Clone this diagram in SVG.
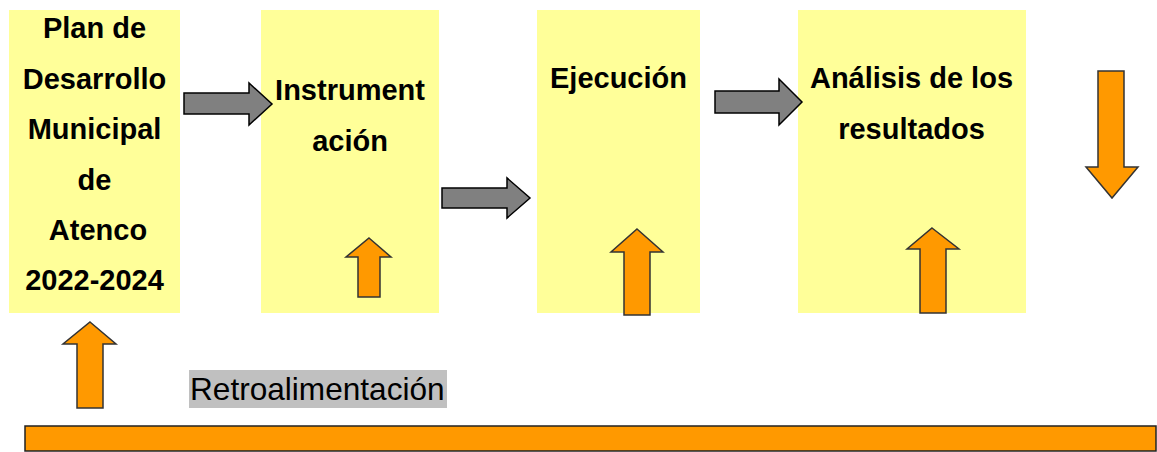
<svg xmlns="http://www.w3.org/2000/svg" width="1157" height="452" viewBox="0 0 1157 452">
<style>
.box{fill:#FFFF99;}
.t{font-family:"Liberation Sans",Arial,sans-serif;font-weight:bold;font-size:29px;fill:#000;text-anchor:middle;}
.gray{fill:#808080;stroke:#000;stroke-width:1.5;stroke-linejoin:miter;}
.org{fill:#FF9900;stroke:#333;stroke-width:1.5;stroke-linejoin:miter;}
.rt{font-family:"Liberation Sans",Arial,sans-serif;font-size:31.6px;fill:#000;}
</style>
<rect width="1157" height="452" fill="#fff"/>
<g id="node-plan">
<rect class="box" x="9" y="10" width="171" height="303"/>
<text class="t" x="94.5" y="38">Plan de</text>
<text class="t" x="94.5" y="89">Desarrollo</text>
<text class="t" x="94.5" y="139">Municipal</text>
<text class="t" x="94.5" y="189.5">de</text>
<text class="t" x="98" y="240">Atenco</text>
<text class="t" x="94.5" y="289.5">2022-2024</text>
</g>
<g id="node-instrumentacion">
<rect class="box" x="261" y="10" width="178" height="303"/>
<text class="t" x="350" y="100">Instrument</text>
<text class="t" x="350" y="151">ación</text>
</g>
<g id="node-ejecucion">
<rect class="box" x="537" y="10" width="163" height="303"/>
<text class="t" x="618.5" y="88">Ejecución</text>
</g>
<g id="node-analisis">
<rect class="box" x="798" y="10" width="228" height="303"/>
<text class="t" x="911.5" y="88">Análisis de los</text>
<text class="t" x="911.5" y="139">resultados</text>
</g>
<g id="connectors">
<polygon class="gray" points="184,93 249,93 249,83 272,104 249,125 249,114 184,114"/>
<polygon class="gray" points="442,188 507,188 507,178 530,198 507,218 507,208 442,208"/>
<polygon class="gray" points="715,91 779,91 779,79 802,102 779,125 779,113 715,113"/>
<polygon class="org" points="369,238 391,257 380,257 380,297 358,297 358,257 346,257"/>
<polygon class="org" points="637,229 663,252 650,252 650,315 624,315 624,252 611,252"/>
<polygon class="org" points="932,228 959,249 946,249 946,313 920,313 920,249 907,249"/>
<polygon class="org" points="1098,71 1124,71 1124,167 1138,167 1112,198 1086,167 1098,167"/>
<polygon class="org" points="90,322 116,344 103,344 103,408 77,408 77,344 63,344"/>
<rect x="25" y="426" width="1131" height="25" fill="#FF9900" stroke="#222" stroke-width="1.5"/>
</g>
<g id="label-retro">
<rect x="189" y="370" width="258" height="38" fill="#C0C0C0"/>
<text class="rt" x="190" y="400">Retroalimentación</text>
</g>
</svg>
